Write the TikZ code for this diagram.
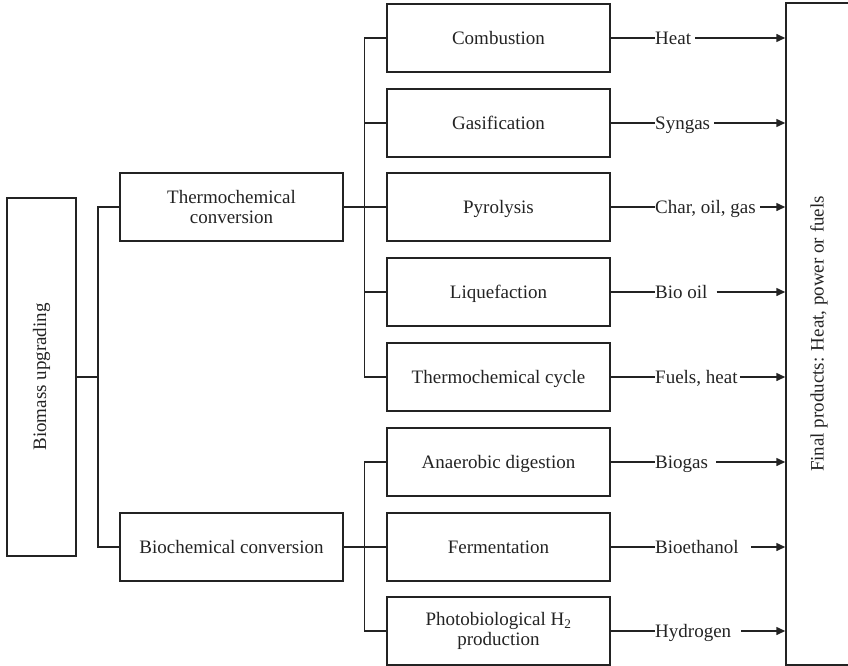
\documentclass[tikz,border=0pt]{standalone}
\usepackage{fontspec}
\setmainfont{Liberation Serif}
\usetikzlibrary{arrows.meta}
\definecolor{ink}{RGB}{35,35,35}
\begin{document}
\begin{tikzpicture}[x=1pt,y=-1pt,
  every node/.style={font=\fontsize{19}{20}\selectfont, text=ink},
  box/.style={draw=ink, line width=1.5pt, inner sep=0pt, align=center},
  txt/.style={text height=13pt, text depth=0pt},
  procbox/.style={box, txt, minimum width=223pt, minimum height=68pt},
  procbox2/.style={box, minimum width=223pt, minimum height=68pt},
  lbl/.style={txt, inner xsep=0pt, inner ysep=2pt, anchor=west},
  conn/.style={draw=ink, line width=1.5pt},
  arr/.style={conn, -{Triangle[length=9pt,width=8pt]}}]
\useasboundingbox (0,0) rectangle (848,666);
\clip (0,0) rectangle (848,666);

% main boxes
\node[box, minimum width=69pt, minimum height=358pt] (biomass) at (41.5,377) {\rotatebox{90}{Biomass upgrading}};
\node[box, minimum width=223pt, minimum height=68pt] (thermo) at (231.5,207) {Thermochemical\\conversion};
\node[box, txt, minimum width=223pt, minimum height=68pt] (biochem) at (231.5,547) {Biochemical conversion};
\node[box, minimum width=66pt, minimum height=662pt] (final) at (819,334) {\rotatebox{90}{Final products: Heat, power or fuels}};

% process boxes
\node[procbox] (comb)  at (498.5,38)  {Combustion};
\node[procbox] (gas)   at (498.5,123) {Gasification};
\node[procbox] (pyro)  at (498.5,207) {Pyrolysis};
\node[procbox] (liq)   at (498.5,292) {Liquefaction};
\node[procbox] (cyc)   at (498.5,377) {Thermochemical cycle};
\node[procbox] (anae)  at (498.5,462) {Anaerobic digestion};
\node[procbox] (ferm)  at (498.5,547) {Fermentation};
\node[procbox2] (photo) at (498.5,631) {Photobiological H\textsubscript{2}\\production};

% product labels
\node[lbl] (lheat) at (655,38)  {Heat};
\node[lbl] (lsyn)  at (655,123) {Syngas};
\node[lbl] (lchar) at (655,207) {Char, oil, gas};
\node[lbl] (loil)  at (655,292) {Bio oil};
\node[lbl] (lfuel) at (655,377) {Fuels, heat};
\node[lbl] (lbgas) at (655,462) {Biogas};
\node[lbl] (leth)  at (655,547) {Bioethanol};
\node[lbl] (lhyd)  at (655,631) {Hydrogen};

% left trunk
\coordinate (trunkT) at (98,207);
\coordinate (trunkB) at (98,547);
\draw[conn] (thermo.west) -- (trunkT) -- (trunkB) -- (biochem.west);
\draw[conn] (biomass.east) -- (biomass.east -| trunkT);

% thermochemical bus
\draw[conn] (comb.west) -- ++(-22,0) |- (cyc.west);
\draw[conn] (gas.west) -- ++(-22,0);
\draw[conn] (liq.west) -- ++(-22,0);
\draw[conn] (thermo.east) -- (pyro.west);

% biochemical bus
\draw[conn] (anae.west) -- ++(-22,0) |- (photo.west);
\draw[conn] (biochem.east) -- (ferm.west);

% process to labels
\foreach \p/\l in {comb/lheat, gas/lsyn, pyro/lchar, liq/loil, cyc/lfuel, anae/lbgas, ferm/leth, photo/lhyd}
  \draw[conn] (\p.east) -- (\l.west);

% labels to final
\foreach \l/\g in {lheat/4, lsyn/4, lchar/4, loil/9, lfuel/2, lbgas/8, leth/12, lhyd/10}
  \draw[arr] ([xshift=\g pt]\l.east) -- (\l.east -| final.west);
\end{tikzpicture}
\end{document}
